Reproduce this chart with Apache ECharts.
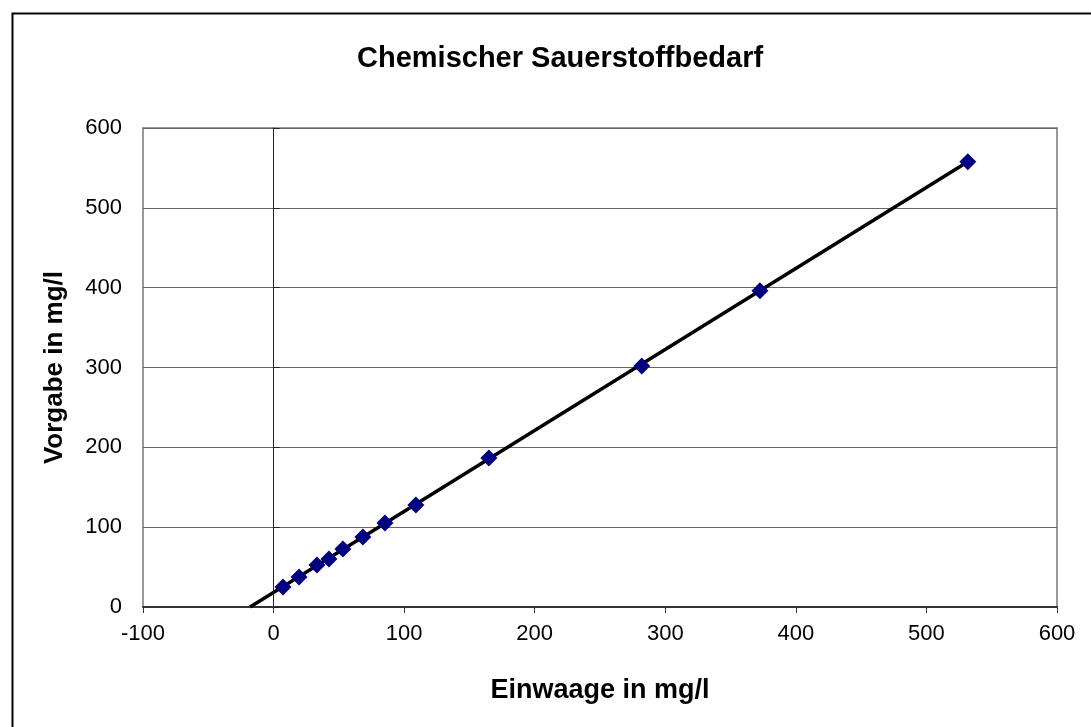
<!DOCTYPE html>
<html>
<head>
<meta charset="utf-8">
<script src="https://cdn.jsdelivr.net/npm/echarts@6/dist/echarts.min.js"></script>
<style>html,body{margin:0;padding:0;background:#fff}#c{width:1091px;height:727px}</style>
</head>
<body>
<div id="c"></div>
<script>
const titleText = 'Chemischer Sauerstoffbedarf';
const xName = 'Einwaage in mg/l';
const yName = 'Vorgabe in mg/l';
const einwaage = [7.2, 19.5, 33.2, 42.4, 53.1, 68.4, 85.3, 109, 164.9, 282, 372.5, 531.7];
const vorgabe = [25, 37.6, 52.6, 60, 72.7, 87.7, 105.3, 127.8, 186.7, 302, 396, 557.6];
const trendX = [-18, 532];
const trendY = [0, 558];
const xMin = -100, xMax = 600, xStep = 100;
const yMin = 0, yMax = 600, yStep = 100;

const pts = einwaage.map((v, i) => [v, vorgabe[i]]);
const trend = trendX.map((v, i) => [v, trendY[i]]);
const FONT = 'Liberation Sans, Arial, sans-serif';

const chart = echarts.init(document.getElementById('c'), null, {renderer: 'canvas'});
chart.setOption({
  backgroundColor: '#fff',
  animation: false,
  title: {
    text: titleText, left: 352, top: 39,
    textStyle: {fontFamily: FONT, fontSize: 29, fontWeight: 'bold', color: '#000'}
  },
  graphic: [{
    type: 'rect', left: 10, top: 11, silent: true,
    shape: {x: 0, y: 0, width: 1200, height: 1000},
    style: {fill: 'none', stroke: '#000', lineWidth: 2}
  }],
  grid: {
    left: 143, right: 34, top: 128, bottom: 120,
    show: true, borderColor: '#9a9a9a', borderWidth: 2, backgroundColor: 'transparent'
  },
  xAxis: {
    type: 'value', min: xMin, max: xMax, interval: xStep,
    name: xName, nameLocation: 'middle', nameGap: 70,
    nameTextStyle: {fontFamily: FONT, fontSize: 27, fontWeight: 'bold', color: '#000'},
    axisLine: {show: true, onZero: false, lineStyle: {color: '#333', width: 2}},
    axisTick: {show: true, length: 6, lineStyle: {color: '#333'}},
    axisLabel: {fontFamily: FONT, fontSize: 22, color: '#000', margin: 16},
    splitLine: {show: false}
  },
  yAxis: [{
    type: 'value', min: yMin, max: yMax, interval: yStep,
    name: yName, nameLocation: 'middle', nameGap: 75, nameRotate: 90,
    nameTextStyle: {fontFamily: FONT, fontSize: 26, fontWeight: 'bold', color: '#000'},
    axisLine: {show: false, onZero: false},
    axisTick: {show: false},
    axisLabel: {fontFamily: FONT, fontSize: 22, color: '#000', margin: 21},
    splitLine: {show: true, lineStyle: {color: '#666', width: 1}}
  }, {
    type: 'value', min: yMin, max: yMax, interval: yStep,
    axisLine: {show: true, onZero: true, lineStyle: {color: '#222', width: 1}},
    axisTick: {show: true, length: 6, inside: false, lineStyle: {color: '#222'}},
    axisLabel: {show: false},
    splitLine: {show: false}
  }],
  series: [{
    type: 'line', data: trend, symbol: 'none', z: 3,
    lineStyle: {color: '#000', width: 3.5}
  }, {
    type: 'scatter', data: pts, symbol: 'diamond', symbolSize: 17, z: 4,
    itemStyle: {color: '#000080', opacity: 1}
  }]
});
</script>
</body>
</html>
